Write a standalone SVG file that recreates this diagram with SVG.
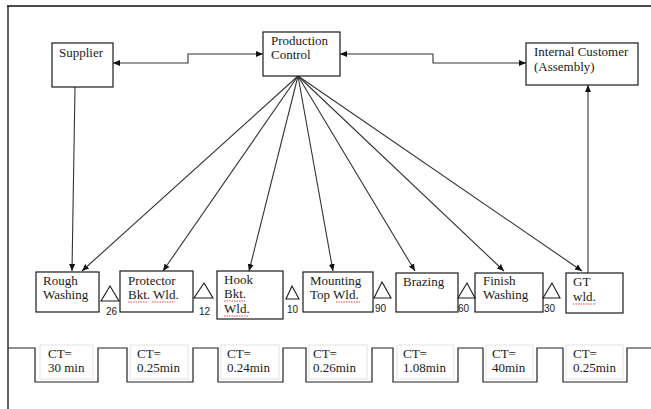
<svg xmlns="http://www.w3.org/2000/svg" width="651" height="409" viewBox="0 0 651 409">
<style>
.box{fill:#fff;stroke:#1a1a1a;stroke-width:1.2}
.t{font-family:"Liberation Serif","Times New Roman",serif;font-size:13px;fill:#1a1a1a}
.n{font-family:"Liberation Sans",Arial,sans-serif;font-size:10px;fill:#1a1a1a}
.ln{fill:none;stroke:#333;stroke-width:1.1}
.tri{fill:#fff;stroke:#1a1a1a;stroke-width:1.1}
.tb{fill:none;stroke:#e4e4e4;stroke-width:1}
.sq{fill:none;stroke:#d22;stroke-width:0.8;stroke-dasharray:1.5 1}
</style>
<defs>
<marker id="ah" markerWidth="8" markerHeight="8" refX="7" refY="4" orient="auto-start-reverse" markerUnits="userSpaceOnUse">
<path d="M0,1 L7,4 L0,7 Z" fill="#111"/>
</marker>
</defs>
<rect width="651" height="409" fill="#fff"/>
<g id="frame"><path d="M7,6 H651 M8,6 V409" fill="none" stroke="#111" stroke-width="1.3"/></g>

<g id="connectors">
<polyline class="ln" points="113,63 188,63 188,54 263,54" marker-start="url(#ah)" marker-end="url(#ah)"/>
<polyline class="ln" points="340,54 433,54 433,63 526,63" marker-start="url(#ah)" marker-end="url(#ah)"/>
<line class="ln" x1="75" y1="87" x2="72" y2="271" marker-end="url(#ah)"/>
<line class="ln" x1="588" y1="273" x2="588" y2="85" marker-end="url(#ah)"/>
<line class="ln" x1="298" y1="76" x2="82" y2="271" marker-end="url(#ah)"/>
<line class="ln" x1="298" y1="76" x2="163" y2="271" marker-end="url(#ah)"/>
<line class="ln" x1="298" y1="76" x2="249" y2="271" marker-end="url(#ah)"/>
<line class="ln" x1="298" y1="76" x2="333" y2="271" marker-end="url(#ah)"/>
<line class="ln" x1="298" y1="76" x2="415" y2="271" marker-end="url(#ah)"/>
<line class="ln" x1="298" y1="76" x2="504" y2="271" marker-end="url(#ah)"/>
<line class="ln" x1="298" y1="76" x2="582" y2="271" marker-end="url(#ah)"/>
</g>

<g id="supplier"><rect class="box" x="52" y="43" width="61" height="44"/><text class="t" x="59" y="57">Supplier</text></g>
<g id="production-control"><rect class="box" x="263" y="32" width="77" height="44"/><text class="t" x="271" y="45">Production</text><text class="t" x="271" y="59">Control</text></g>
<g id="internal-customer"><rect class="box" x="526" y="43" width="112" height="42"/><text class="t" x="534" y="56">Internal Customer</text><text class="t" x="534" y="71">(Assembly)</text></g>

<g id="rough-washing"><rect class="box" x="36" y="272" width="63" height="40"/><text class="t" x="43" y="285">Rough</text><text class="t" x="43" y="299">Washing</text></g>
<g id="protector"><rect class="box" x="120" y="271" width="73" height="41"/><text class="t" x="128" y="285">Protector</text><text class="t" x="128" y="299">Bkt. Wld.</text><path class="sq" d="M128,302 H147 M152,302 H175"/></g>
<g id="hook"><rect class="box" x="217" y="271" width="66" height="48"/><text class="t" x="224" y="284">Hook</text><text class="t" x="224" y="298">Bkt.</text><text class="t" x="224" y="313">Wld.</text><path class="sq" d="M224,301 H245 M224,316 H248"/></g>
<g id="mounting"><rect class="box" x="303" y="272" width="70" height="40"/><text class="t" x="310" y="285">Mounting</text><text class="t" x="310" y="299">Top Wld.</text><path class="sq" d="M336,302 H360"/></g>
<g id="brazing"><rect class="box" x="396" y="273" width="62" height="39"/><text class="t" x="403" y="286">Brazing</text></g>
<g id="finish-washing"><rect class="box" x="475" y="273" width="68" height="39"/><text class="t" x="483" y="285">Finish</text><text class="t" x="483" y="299">Washing</text></g>
<g id="gt-wld"><rect class="box" x="566" y="273" width="57" height="40"/><text class="t" x="573" y="286">GT</text><text class="t" x="573" y="301">wld.</text><path class="sq" d="M573,304 H596"/></g>

<g id="inventory">
<polygon class="tri" points="110,286 101,301 119,301"/><text class="n" x="106" y="315">26</text>
<polygon class="tri" points="204,283 194,298 213,298"/><text class="n" x="199" y="315">12</text>
<polygon class="tri" points="292,286 286,299 299,299"/><text class="n" x="287" y="313">10</text>
<polygon class="tri" points="382,282 374,298 391,298"/><text class="n" x="375" y="312">90</text>
<polygon class="tri" points="467,283 458,298 475,298"/><text class="n" x="458" y="312">60</text>
<polygon class="tri" points="552,283 543,298 560,298"/><text class="n" x="544" y="312">30</text>
</g>

<g id="timeline">
<path d="M8,348 H35 V382 H98 V348 H127 V382 H193 V348 H218 V382 H283 V348 H306 V382 H372 V348 H393 V382 H458 V348 H483 V382 H537 V348 H563 V382 H627 V348 H651" fill="none" stroke="#222" stroke-width="1.2"/>
<rect class="tb" x="40" y="345" width="53" height="34"/>
<rect class="tb" x="130" y="345" width="58" height="34"/>
<rect class="tb" x="221" y="345" width="58" height="34"/>
<rect class="tb" x="309" y="345" width="58" height="34"/>
<rect class="tb" x="397" y="345" width="57" height="34"/>
<rect class="tb" x="486" y="345" width="47" height="34"/>
<rect class="tb" x="566" y="345" width="57" height="34"/>
<text class="t" x="48" y="358">CT=</text><text class="t" x="48" y="372">30 min</text>
<text class="t" x="137" y="358">CT=</text><text class="t" x="137" y="372">0.25min</text>
<text class="t" x="227" y="358">CT=</text><text class="t" x="227" y="372">0.24min</text>
<text class="t" x="313" y="358">CT=</text><text class="t" x="313" y="372">0.26min</text>
<text class="t" x="403" y="358">CT=</text><text class="t" x="403" y="372">1.08min</text>
<text class="t" x="492" y="358">CT=</text><text class="t" x="492" y="372">40min</text>
<text class="t" x="573" y="358">CT=</text><text class="t" x="573" y="372">0.25min</text>
</g>
</svg>
